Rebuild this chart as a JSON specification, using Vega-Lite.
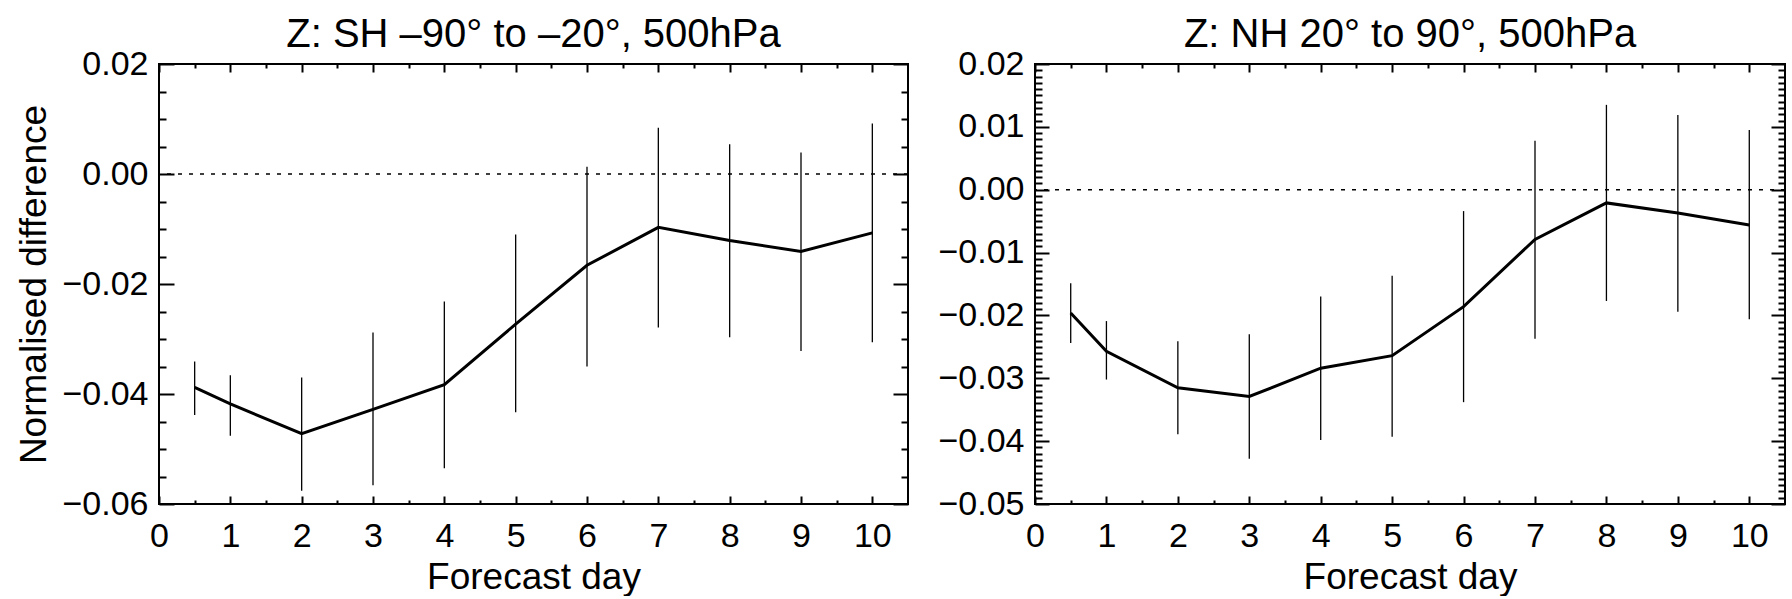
{
  "$schema": "https://vega.github.io/schema/vega-lite/v6.json",
  "padding": {"left": 14, "top": 14, "right": 0, "bottom": 0},
  "background": "white",
  "spacing": 26,
  "config": {
    "font": "Liberation Sans",
    "view": {"stroke": "black", "strokeWidth": 2},
    "axis": {"domain": false, "grid": false, "tickColor": "black", "tickWidth": 2, "labelColor": "black", "titleColor": "black", "labelFontSize": 34, "titleFontSize": 37, "titleFontWeight": "normal", "labelFlush": false, "labelOverlap": false, "labelBound": false},
    "title": {"fontSize": 40, "fontWeight": "normal", "color": "black", "anchor": "middle", "frame": "group", "baseline": "alphabetic", "offset": -8}
  },
  "datasets": {
    "sh": [
      {"day": 0.5, "mean": -0.0388, "lo": -0.0438, "hi": -0.0341},
      {"day": 1, "mean": -0.0418, "lo": -0.0476, "hi": -0.0366},
      {"day": 2, "mean": -0.0472, "lo": -0.0576, "hi": -0.0370},
      {"day": 3, "mean": -0.0428, "lo": -0.0566, "hi": -0.0288},
      {"day": 4, "mean": -0.0383, "lo": -0.0535, "hi": -0.0232},
      {"day": 5, "mean": -0.0273, "lo": -0.0433, "hi": -0.0110},
      {"day": 6, "mean": -0.0166, "lo": -0.0350, "hi": 0.0013},
      {"day": 7, "mean": -0.0097, "lo": -0.0279, "hi": 0.0084},
      {"day": 8, "mean": -0.0121, "lo": -0.0297, "hi": 0.0054},
      {"day": 9, "mean": -0.0141, "lo": -0.0322, "hi": 0.0039},
      {"day": 10, "mean": -0.0107, "lo": -0.0306, "hi": 0.0092}
    ],
    "nh": [
      {"day": 0.5, "mean": -0.0196, "lo": -0.0244, "hi": -0.0149},
      {"day": 1, "mean": -0.0257, "lo": -0.0302, "hi": -0.0209},
      {"day": 2, "mean": -0.0315, "lo": -0.0389, "hi": -0.0241},
      {"day": 3, "mean": -0.0329, "lo": -0.0428, "hi": -0.0230},
      {"day": 4, "mean": -0.0284, "lo": -0.0398, "hi": -0.0170},
      {"day": 5, "mean": -0.0264, "lo": -0.0393, "hi": -0.0137},
      {"day": 6, "mean": -0.0186, "lo": -0.0338, "hi": -0.0034},
      {"day": 7, "mean": -0.0079, "lo": -0.0237, "hi": 0.0078},
      {"day": 8, "mean": -0.0021, "lo": -0.0177, "hi": 0.0135},
      {"day": 9, "mean": -0.0037, "lo": -0.0194, "hi": 0.0119},
      {"day": 10, "mean": -0.0056, "lo": -0.0206, "hi": 0.0095}
    ]
  },
  "hconcat": [
    {
      "width": 749,
      "height": 440,
      "title": {"text": "Z: SH –90° to –20°, 500hPa"},
      "data": {"name": "sh"},
      "resolve": {"axis": {"x": "independent", "y": "independent"}},
      "layer": [
        {
          "data": {"values": [{"ref": 0}]},
          "mark": {"type": "rule", "color": "black", "strokeWidth": 1.5, "strokeDash": [4, 7]},
          "encoding": {
            "y": {"field": "ref", "type": "quantitative", "scale": {"domain": [-0.06, 0.02], "nice": false, "zero": false}, "axis": null}
          }
        },
        {
          "mark": {"type": "rule", "color": "black", "strokeWidth": 1.3},
          "encoding": {
            "x": {"field": "day", "type": "quantitative", "scale": {"domain": [0, 10.5], "nice": false, "zero": false},
                  "axis": {"orient": "bottom", "values": [0,1,2,3,4,5,6,7,8,9,10], "format": "d", "tickSize": 8, "offset": -8, "labelPadding": 15, "title": "Forecast day", "titlePadding": 6}},
            "y": {"field": "lo", "type": "quantitative", "scale": {"domain": [-0.06, 0.02], "nice": false, "zero": false},
                  "axis": {"orient": "left", "values": [-0.06,-0.04,-0.02,0,0.02], "format": ".2f", "tickSize": 15, "offset": -15, "labelPadding": 11, "title": "Normalised difference", "titlePadding": 8}},
            "y2": {"field": "hi"}
          }
        },
        {
          "mark": {"type": "line", "color": "black", "strokeWidth": 3},
          "encoding": {
            "x": {"field": "day", "type": "quantitative", "scale": {"domain": [0, 10.5], "nice": false, "zero": false},
                  "axis": {"orient": "bottom", "values": [0.5,1.5,2.5,3.5,4.5,5.5,6.5,7.5,8.5,9.5], "tickSize": 4, "offset": -4, "labels": false, "title": null}},
            "y": {"field": "mean", "type": "quantitative", "scale": {"domain": [-0.06, 0.02], "nice": false, "zero": false},
                  "axis": {"orient": "left", "values": [-0.055,-0.05,-0.045,-0.035,-0.03,-0.025,-0.015,-0.01,-0.005,0.005,0.01,0.015], "tickSize": 7, "offset": -7, "labels": false, "title": null}}
          }
        },
        {
          "mark": {"type": "point", "opacity": 0},
          "encoding": {
            "x": {"field": "day", "type": "quantitative", "scale": {"domain": [0, 10.5], "nice": false, "zero": false},
                  "axis": {"orient": "top", "values": [0,1,2,3,4,5,6,7,8,9,10], "tickSize": 8, "offset": -8, "labels": false, "title": null}},
            "y": {"field": "mean", "type": "quantitative", "scale": {"domain": [-0.06, 0.02], "nice": false, "zero": false},
                  "axis": {"orient": "right", "values": [-0.06,-0.04,-0.02,0,0.02], "tickSize": 15, "offset": -15, "labels": false, "title": null}}
          }
        },
        {
          "mark": {"type": "point", "opacity": 0},
          "encoding": {
            "x": {"field": "day", "type": "quantitative", "scale": {"domain": [0, 10.5], "nice": false, "zero": false},
                  "axis": {"orient": "top", "values": [0.5,1.5,2.5,3.5,4.5,5.5,6.5,7.5,8.5,9.5], "tickSize": 4, "offset": -4, "labels": false, "title": null}},
            "y": {"field": "mean", "type": "quantitative", "scale": {"domain": [-0.06, 0.02], "nice": false, "zero": false},
                  "axis": {"orient": "right", "values": [-0.055,-0.05,-0.045,-0.035,-0.03,-0.025,-0.015,-0.01,-0.005,0.005,0.01,0.015], "tickSize": 7, "offset": -7, "labels": false, "title": null}}
          }
        }
      ]
    },
    {
      "width": 750,
      "height": 440,
      "title": {"text": "Z: NH 20° to 90°, 500hPa"},
      "data": {"name": "nh"},
      "resolve": {"axis": {"x": "independent", "y": "independent"}},
      "layer": [
        {
          "data": {"values": [{"ref": 0}]},
          "mark": {"type": "rule", "color": "black", "strokeWidth": 1.5, "strokeDash": [4, 7]},
          "encoding": {
            "y": {"field": "ref", "type": "quantitative", "scale": {"domain": [-0.05, 0.02], "nice": false, "zero": false}, "axis": null}
          }
        },
        {
          "mark": {"type": "rule", "color": "black", "strokeWidth": 1.3},
          "encoding": {
            "x": {"field": "day", "type": "quantitative", "scale": {"domain": [0, 10.5], "nice": false, "zero": false},
                  "axis": {"orient": "bottom", "values": [0,1,2,3,4,5,6,7,8,9,10], "format": "d", "tickSize": 8, "offset": -8, "labelPadding": 15, "title": "Forecast day", "titlePadding": 6}},
            "y": {"field": "lo", "type": "quantitative", "scale": {"domain": [-0.05, 0.02], "nice": false, "zero": false},
                  "axis": {"orient": "left", "values": [-0.05,-0.04,-0.03,-0.02,-0.01,0,0.01,0.02], "format": ".2f", "tickSize": 14, "offset": -14, "labelPadding": 11, "title": null}},
            "y2": {"field": "hi"}
          }
        },
        {
          "mark": {"type": "line", "color": "black", "strokeWidth": 3},
          "encoding": {
            "x": {"field": "day", "type": "quantitative", "scale": {"domain": [0, 10.5], "nice": false, "zero": false},
                  "axis": {"orient": "bottom", "values": [0.5,1.5,2.5,3.5,4.5,5.5,6.5,7.5,8.5,9.5], "tickSize": 4, "offset": -4, "labels": false, "title": null}},
            "y": {"field": "mean", "type": "quantitative", "scale": {"domain": [-0.05, 0.02], "nice": false, "zero": false},
                  "axis": {"orient": "left", "values": [-0.049,-0.048,-0.047,-0.046,-0.045,-0.044,-0.043,-0.042,-0.041,-0.039,-0.038,-0.037,-0.036,-0.035,-0.034,-0.033,-0.032,-0.031,-0.029,-0.028,-0.027,-0.026,-0.025,-0.024,-0.023,-0.022,-0.021,-0.019,-0.018,-0.017,-0.016,-0.015,-0.014,-0.013,-0.012,-0.011,-0.009,-0.008,-0.007,-0.006,-0.005,-0.004,-0.003,-0.002,-0.001,0.001,0.002,0.003,0.004,0.005,0.006,0.007,0.008,0.009,0.011,0.012,0.013,0.014,0.015,0.016,0.017,0.018,0.019], "tickSize": 7, "offset": -7, "labels": false, "title": null}}
          }
        },
        {
          "mark": {"type": "point", "opacity": 0},
          "encoding": {
            "x": {"field": "day", "type": "quantitative", "scale": {"domain": [0, 10.5], "nice": false, "zero": false},
                  "axis": {"orient": "top", "values": [0,1,2,3,4,5,6,7,8,9,10], "tickSize": 8, "offset": -8, "labels": false, "title": null}},
            "y": {"field": "mean", "type": "quantitative", "scale": {"domain": [-0.05, 0.02], "nice": false, "zero": false},
                  "axis": {"orient": "right", "values": [-0.05,-0.04,-0.03,-0.02,-0.01,0,0.01,0.02], "tickSize": 14, "offset": -14, "labels": false, "title": null}}
          }
        },
        {
          "mark": {"type": "point", "opacity": 0},
          "encoding": {
            "x": {"field": "day", "type": "quantitative", "scale": {"domain": [0, 10.5], "nice": false, "zero": false},
                  "axis": {"orient": "top", "values": [0.5,1.5,2.5,3.5,4.5,5.5,6.5,7.5,8.5,9.5], "tickSize": 4, "offset": -4, "labels": false, "title": null}},
            "y": {"field": "mean", "type": "quantitative", "scale": {"domain": [-0.05, 0.02], "nice": false, "zero": false},
                  "axis": {"orient": "right", "values": [-0.049,-0.048,-0.047,-0.046,-0.045,-0.044,-0.043,-0.042,-0.041,-0.039,-0.038,-0.037,-0.036,-0.035,-0.034,-0.033,-0.032,-0.031,-0.029,-0.028,-0.027,-0.026,-0.025,-0.024,-0.023,-0.022,-0.021,-0.019,-0.018,-0.017,-0.016,-0.015,-0.014,-0.013,-0.012,-0.011,-0.009,-0.008,-0.007,-0.006,-0.005,-0.004,-0.003,-0.002,-0.001,0.001,0.002,0.003,0.004,0.005,0.006,0.007,0.008,0.009,0.011,0.012,0.013,0.014,0.015,0.016,0.017,0.018,0.019], "tickSize": 7, "offset": -7, "labels": false, "title": null}}
          }
        }
      ]
    }
  ]
}
